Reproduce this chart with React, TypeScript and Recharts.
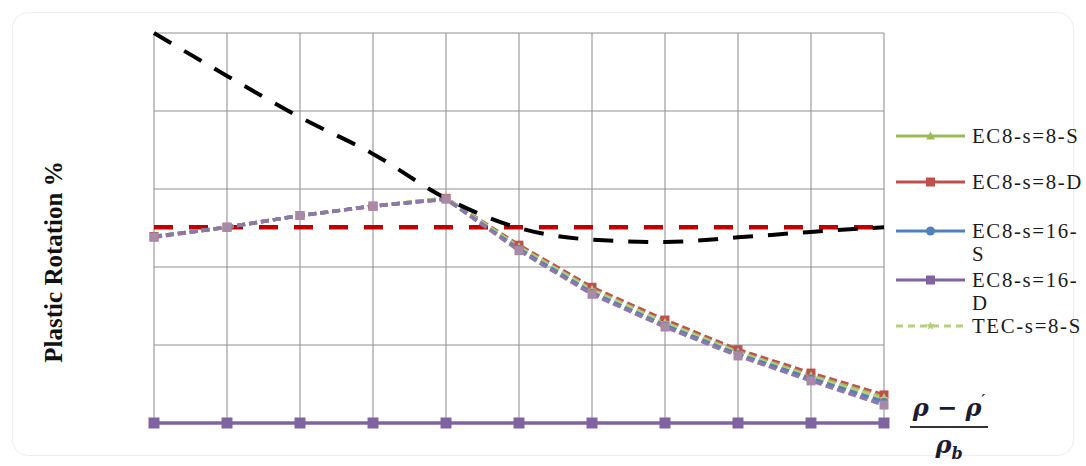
import React from 'react';
import { LineChart, Line, XAxis, YAxis, CartesianGrid } from 'recharts';

// ---- data ----
const xPoints = [0, 1, 2, 3, 4, 5, 6, 7, 8, 9, 10];
const ec8s8S = [2.39, 2.51, 2.66, 2.78, 2.88, 2.26, 1.71, 1.29, 0.91, 0.61, 0.33];
const ec8s8D = [2.39, 2.51, 2.66, 2.78, 2.88, 2.28, 1.74, 1.32, 0.94, 0.64, 0.36];
const ec8s16S = [2.39, 2.51, 2.66, 2.78, 2.87, 2.23, 1.67, 1.25, 0.88, 0.57, 0.27];
const ec8s16D = [2.38, 2.51, 2.66, 2.78, 2.87, 2.21, 1.65, 1.23, 0.86, 0.54, 0.23];
const tecs8S = [2.39, 2.51, 2.66, 2.78, 2.88, 2.25, 1.70, 1.28, 0.90, 0.59, 0.31];
const baseline = [0, 0, 0, 0, 0, 0, 0, 0, 0, 0, 0];
const limitBlack = [5.0, 4.45, 3.92, 3.45, 2.88, 2.5, 2.35, 2.32, 2.38, 2.45, 2.51];
const limitRed = [2.51, 2.51, 2.51, 2.51, 2.51, 2.51, 2.51, 2.51, 2.51, 2.51, 2.51];
const yTicks = [0, 1, 2, 3, 4, 5];

const seriesNames = ['EC8-s=8-S', 'EC8-s=8-D', 'EC8-s=16-S', 'EC8-s=16-D', 'TEC-s=8-S'];
const legendLines = [['EC8-s=8-S'], ['EC8-s=8-D'], ['EC8-s=16-', 'S'], ['EC8-s=16-', 'D'], ['TEC-s=8-S']];
const yAxisTitle = 'Plastic Rotation %';

const data = xPoints.map((x, i) => ({
  x,
  s8S: ec8s8S[i],
  s8D: ec8s8D[i],
  s16S: ec8s16S[i],
  s16D: ec8s16D[i],
  tec: tecs8S[i],
  base: baseline[i],
  black: limitBlack[i],
  red: limitRed[i],
}));

const C_GREEN = '#9bbb59';
const C_RED = '#c0504d';
const C_BLUE = '#4f81bd';
const C_PURPLE = '#8064a2';
const C_TEC = '#b5cf7c';

type Shape = 'tri' | 'sq' | 'circ' | 'star';

function marker(shape: Shape, color: string, size: number, cx: number, cy: number, key?: any) {
  const s = size / 2;
  if (shape === 'sq') return <rect key={key} x={cx - s} y={cy - s} width={size} height={size} fill={color} />;
  if (shape === 'circ') return <circle key={key} cx={cx} cy={cy} r={s} fill={color} />;
  if (shape === 'tri')
    return <polygon key={key} points={`${cx},${cy - s} ${cx + s},${cy + s * 0.8} ${cx - s},${cy + s * 0.8}`} fill={color} />;
  const pts: string[] = [];
  for (let k = 0; k < 10; k++) {
    const r = k % 2 === 0 ? s : s * 0.45;
    const a = -Math.PI / 2 + (k * Math.PI) / 5;
    pts.push(`${cx + r * Math.cos(a)},${cy + r * Math.sin(a)}`);
  }
  return <polygon key={key} points={pts.join(' ')} fill={color} />;
}

const dotFn = (shape: Shape, color: string, size: number) => (p: any) =>
  marker(shape, color, size, p.cx, p.cy, `${shape}-${p.index}`);

const legendItems = [
  { lines: legendLines[0], color: C_GREEN, shape: 'tri' as Shape, dash: undefined as string | undefined, y: 136 },
  { lines: legendLines[1], color: C_RED, shape: 'sq' as Shape, dash: undefined, y: 182 },
  { lines: legendLines[2], color: C_BLUE, shape: 'circ' as Shape, dash: undefined, y: 231 },
  { lines: legendLines[3], color: C_PURPLE, shape: 'sq' as Shape, dash: undefined, y: 280 },
  { lines: legendLines[4], color: C_TEC, shape: 'star' as Shape, dash: '7 5', y: 326 },
];

export default function App() {
  return (
    <div style={{ position: 'absolute', left: 0, top: 0, width: 1086, height: 466, background: '#fff', overflow: 'hidden' }}>
      <div
        style={{
          position: 'absolute',
          left: 12,
          top: 12,
          width: 1062,
          height: 444,
          border: '1px solid #eeeeee',
          borderRadius: 16,
          boxSizing: 'border-box',
        }}
      />
      <div style={{ position: 'absolute', left: 0, top: 0 }}>
        <LineChart width={1086} height={466} data={data} margin={{ top: 33, right: 202, bottom: 43, left: 154 }}>
          <CartesianGrid horizontal={false} vertical stroke="#c4c4c4" strokeWidth={2} />
          <CartesianGrid horizontal vertical={false} stroke="#909090" strokeWidth={1} />
          <XAxis dataKey="x" type="number" domain={[0, 10]} ticks={xPoints} hide />
          <YAxis type="number" domain={[0, 5]} ticks={yTicks} hide />
          <Line dataKey="red" stroke="#c00000" strokeWidth={4.5} strokeDasharray="19 16" dot={false} isAnimationActive={false} />
          <Line name={seriesNames[1]} dataKey="s8D" stroke={C_RED} strokeWidth={3.5} strokeDasharray="8 4" dot={dotFn('sq', C_RED, 9)} isAnimationActive={false} />
          <Line name={seriesNames[0]} dataKey="s8S" stroke={C_GREEN} strokeWidth={3.5} strokeDasharray="8 4" dot={dotFn('tri', C_GREEN, 9)} isAnimationActive={false} />
          <Line name={seriesNames[4]} dataKey="tec" stroke={C_TEC} strokeWidth={3.5} strokeDasharray="8 4" dot={dotFn('star', C_TEC, 10)} isAnimationActive={false} />
          <Line name={seriesNames[2]} dataKey="s16S" stroke={C_BLUE} strokeWidth={3.5} strokeDasharray="8 4" dot={dotFn('circ', C_BLUE, 8)} isAnimationActive={false} />
          <Line name={seriesNames[3]} dataKey="s16D" stroke="#9077a8" strokeWidth={3.5} strokeDasharray="8 4" dot={dotFn('sq', '#a88aa8', 9)} isAnimationActive={false} />
          <Line dataKey="base" stroke={C_PURPLE} strokeWidth={3.5} dot={dotFn('sq', C_PURPLE, 11)} isAnimationActive={false} />
          <Line type="monotone" dataKey="black" stroke="#000" strokeWidth={4} strokeDasharray="20 15" dot={false} isAnimationActive={false} />
        </LineChart>
      </div>

      {/* legend */}
      {legendItems.map((it, i) => (
        <div key={i} style={{ position: 'absolute', left: 893, top: it.y - 11, height: 22 }}>
          <svg width={75} height={22} style={{ position: 'absolute', left: 0, top: 0 }}>
            <line x1={3} y1={11} x2={72} y2={11} stroke={it.color} strokeWidth={3} strokeDasharray={it.dash} />
            {marker(it.shape, it.color, 9, 37.5, 11)}
          </svg>
          <div
            style={{
              position: 'absolute',
              left: 79,
              top: 0,
              fontFamily: '"Liberation Serif", "Times New Roman", serif',
              fontSize: 20,
              lineHeight: '22.5px',
              letterSpacing: 1.6,
              color: '#1a1a1a',
              whiteSpace: 'nowrap',
              transform: 'scaleX(1.04)',
              transformOrigin: 'left center',
            }}
          >
            {it.lines.map((l, j) => (
              <div key={j}>{l}</div>
            ))}
          </div>
        </div>
      ))}

      {/* y axis title */}
      <div
        style={{
          position: 'absolute',
          left: 54,
          top: 262,
          transform: 'translate(-50%, -50%) rotate(-90deg)',
          fontFamily: '"Liberation Serif", "Times New Roman", serif',
          fontWeight: 'bold',
          fontSize: 25,
          whiteSpace: 'nowrap',
          color: '#111',
        }}
      >
        {yAxisTitle}
      </div>

      {/* x axis title (fraction) */}
      <div
        style={{
          position: 'absolute',
          left: 910,
          top: 390,
          width: 78,
          fontFamily: '"DejaVu Serif", "Liberation Serif", serif',
          fontWeight: 'bold',
          fontStyle: 'italic',
          color: '#1b1b33',
          textAlign: 'center',
        }}
      >
        <div style={{ fontSize: 24, lineHeight: '36px', borderBottom: '2px solid #333', whiteSpace: 'nowrap' }}>
          ρ − ρ<sup style={{ fontSize: 14, verticalAlign: 'top', lineHeight: '20px' }}>′</sup>
        </div>
        <div style={{ fontSize: 24, lineHeight: '34px', whiteSpace: 'nowrap' }}>
          ρ<sub style={{ fontSize: 16 }}>b</sub>
        </div>
      </div>
    </div>
  );
}
